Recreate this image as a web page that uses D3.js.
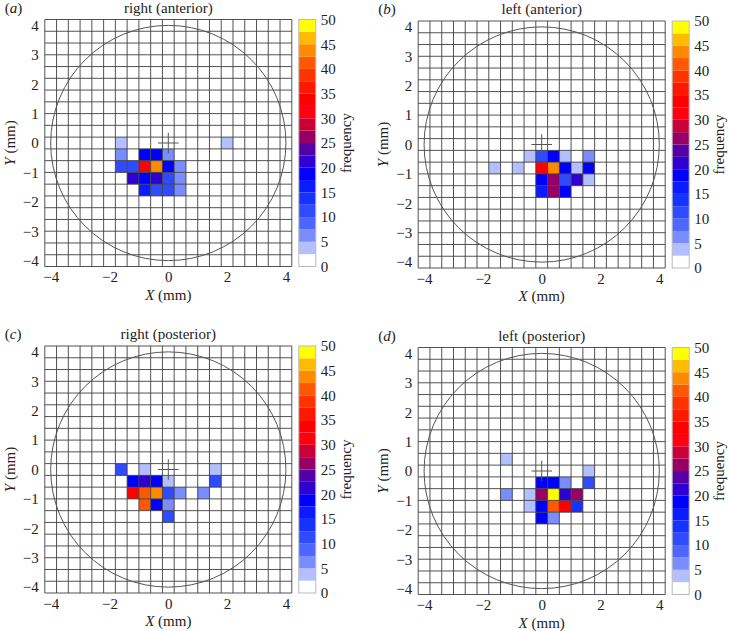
<!DOCTYPE html>
<html>
<head>
<meta charset="utf-8">
<script src="https://cdn.jsdelivr.net/npm/d3@7"></script>
<style>
  html, body { margin: 0; padding: 0; background: #fff; }
  svg text { font-family: 'Liberation Serif', 'Times New Roman', serif; fill: #222; }
</style>
</head>
<body>
<svg id="chart" width="729" height="631"></svg>
<script>
// ---- data ----
const panelLetters = ["a", "b", "c", "d"];
const panelTitles = ["right (anterior)", "left (anterior)", "right (posterior)", "left (posterior)"];
const xTicks = [-4, -2, 0, 2, 4];
const yTicks = [-4, -3, -2, -1, 0, 1, 2, 3, 4];
const colorTicks = [0, 5, 10, 15, 20, 25, 30, 35, 40, 45, 50];
const colorThresholds = [2.5, 5, 7.5, 10, 12.5, 15, 17.5, 20, 22.5, 25, 27.5, 30, 32.5, 35, 37.5, 40, 42.5, 45, 47.5];
const binColors = ["#ffffff", "#b3bfff", "#7a8dff", "#4d66ff", "#2e4bff", "#1632ff", "#0a1cff", "#0000ff",
  "#2e00d2", "#5400a6", "#960066", "#cc0038", "#ff0010", "#ff0000", "#ff1800", "#ff3300",
  "#ff5800", "#ff8a00", "#ffbb00", "#ffff00"];
const cellSize = 0.4;
const circleRadius = 4;

// cells: [x centre (mm), y centre (mm), frequency]
const rightAnterior = [
  [-1.6, 0, 4], [2.0, 0, 4],
  [-1.6, -0.4, 7], [-0.8, -0.4, 18], [-0.4, -0.4, 18], [0, -0.4, 7],
  [-1.6, -0.8, 10], [-1.2, -0.8, 10], [-0.8, -0.8, 33], [-0.4, -0.8, 44], [0, -0.8, 18], [0.4, -0.8, 7],
  [-1.2, -1.2, 22], [-0.8, -1.2, 18], [-0.4, -1.2, 21], [0, -1.2, 10], [0.4, -1.2, 7],
  [-0.8, -1.6, 17], [-0.4, -1.6, 12], [0, -1.6, 12], [0.4, -1.6, 7]
];
const leftAnterior = [
  [-0.4, -0.4, 4], [0, -0.4, 11], [0.4, -0.4, 18], [0.8, -0.4, 4], [1.6, -0.4, 7],
  [-1.6, -0.8, 4], [-0.8, -0.8, 4], [0, -0.8, 33], [0.4, -0.8, 44], [0.8, -0.8, 18], [1.2, -0.8, 4], [1.6, -0.8, 18],
  [0, -1.2, 18], [0.4, -1.2, 26], [0.8, -1.2, 12], [1.2, -1.2, 21], [1.6, -1.2, 4],
  [0, -1.6, 17], [0.4, -1.6, 26], [0.8, -1.6, 18]
];
const rightPosterior = [
  [-1.6, 0, 10], [-0.8, 0, 4], [1.6, 0, 4],
  [-1.2, -0.4, 18], [-0.8, -0.4, 21], [-0.4, -0.4, 18], [0, -0.4, 4], [1.6, -0.4, 12],
  [-1.2, -0.8, 33], [-0.8, -0.8, 41], [-0.4, -0.8, 44], [0, -0.8, 12], [0.4, -0.8, 7], [1.2, -0.8, 7],
  [-0.8, -1.2, 41], [-0.4, -1.2, 18], [0, -1.2, 7],
  [0, -1.6, 11]
];
const leftPosterior = [
  [-1.2, 0.4, 4],
  [1.6, 0, 4],
  [0, -0.4, 18], [0.4, -0.4, 18], [0.8, -0.4, 7], [1.6, -0.4, 12],
  [-1.2, -0.8, 7], [-0.4, -0.8, 4], [0, -0.8, 26], [0.4, -0.8, 49], [0.8, -0.8, 21], [1.2, -0.8, 26],
  [-0.4, -1.2, 4], [0, -1.2, 18], [0.4, -1.2, 41], [0.8, -1.2, 33], [1.2, -1.2, 14],
  [0, -1.6, 18], [0.4, -1.6, 7]
];
const panelData = [rightAnterior, leftAnterior, rightPosterior, leftPosterior];

// ---- layout ----
const panelPos = [
  { x: 44.8, y: 19.5 },
  { x: 418.2, y: 21 },
  { x: 44.8, y: 346 },
  { x: 418.2, y: 347.5 }
];
const size = 247;
const fontSize = 15;
const FONT = "'Liberation Serif', 'Times New Roman', serif";

const svg = d3.select("#chart");
const color = d3.scaleThreshold().domain(colorThresholds).range(binColors);
const extent = [-4.2, 4.2];
const gridEdges = d3.range(22).map(k => extent[0] + k * cellSize);
const binEdges = [0, ...colorThresholds, 50];

function styleText(sel) {
  sel.attr("font-family", FONT).style("font-family", FONT).style("font-size", fontSize + "px").attr("fill", "#222");
}

panelData.forEach((cells, p) => {
  const pos = panelPos[p];
  const g = svg.append("g").attr("transform", `translate(${pos.x},${pos.y})`);
  const x = d3.scaleLinear().domain(extent).range([0, size]);
  const y = d3.scaleLinear().domain(extent).range([size, 0]);
  const cw = x(cellSize) - x(0);

  // cells
  g.append("g").selectAll("rect").data(cells).join("rect")
    .attr("x", d => x(d[0] - cellSize / 2))
    .attr("y", d => y(d[1] + cellSize / 2))
    .attr("width", cw)
    .attr("height", cw)
    .attr("fill", d => color(d[2]));

  // grid
  const grid = g.append("g").attr("stroke", "#404040").attr("stroke-width", 0.9);
  grid.selectAll("line.v").data(gridEdges).join("line").attr("class", "v")
    .attr("x1", d => x(d)).attr("x2", d => x(d)).attr("y1", 0).attr("y2", size);
  grid.selectAll("line.h").data(gridEdges).join("line").attr("class", "h")
    .attr("y1", d => y(d)).attr("y2", d => y(d)).attr("x1", 0).attr("x2", size);

  // circle
  g.append("circle")
    .attr("cx", x(0)).attr("cy", y(0)).attr("r", x(circleRadius) - x(0))
    .attr("fill", "none").attr("stroke", "#555").attr("stroke-width", 1);

  // cross
  const cr = 0.35;
  g.append("line").attr("x1", x(-cr)).attr("x2", x(cr)).attr("y1", y(0)).attr("y2", y(0))
    .attr("stroke", "#555").attr("stroke-width", 1);
  g.append("line").attr("x1", x(0)).attr("x2", x(0)).attr("y1", y(cr)).attr("y2", y(-cr))
    .attr("stroke", "#555").attr("stroke-width", 1);

  // axes
  const ax = g.append("g").attr("transform", `translate(0,${size})`)
    .call(d3.axisBottom(x).tickValues(xTicks).tickSize(0).tickPadding(5));
  const ay = g.append("g")
    .call(d3.axisLeft(y).tickValues(yTicks).tickSize(0).tickPadding(6));
  [ax, ay].forEach(a => {
    a.attr("font-family", FONT).attr("font-size", fontSize);
    a.select(".domain").remove();
    styleText(a.selectAll("text"));
  });

  // axis titles
  const xt = g.append("text").attr("x", size / 2).attr("y", size + 33)
    .attr("text-anchor", "middle");
  styleText(xt);
  xt.append("tspan").style("font-style", "italic").text("X");
  xt.append("tspan").text(" (mm)");
  const yt = g.append("text").attr("transform", `translate(${-30},${size / 2}) rotate(-90)`)
    .attr("text-anchor", "middle");
  styleText(yt);
  yt.append("tspan").style("font-style", "italic").text("Y");
  yt.append("tspan").text(" (mm)");

  // panel title and letter
  const tt = g.append("text").attr("x", size / 2).attr("y", -7).attr("text-anchor", "middle")
    .text(panelTitles[p]);
  styleText(tt);
  const lt = g.append("text").attr("x", -40).attr("y", -7);
  styleText(lt);
  lt.append("tspan").text("(");
  lt.append("tspan").style("font-style", "italic").text(panelLetters[p]);
  lt.append("tspan").text(")");

  // colorbar
  const cb = g.append("g").attr("transform", `translate(${size + 7},0)`);
  const cbw = 17;
  const cy = d3.scaleLinear().domain([0, 50]).range([size, 0]);
  cb.selectAll("rect").data(d3.range(binColors.length)).join("rect")
    .attr("x", 0).attr("width", cbw)
    .attr("y", i => cy(binEdges[i + 1]))
    .attr("height", i => cy(binEdges[i]) - cy(binEdges[i + 1]))
    .attr("fill", i => binColors[i]);
  cb.append("rect").attr("x", 0).attr("y", 0).attr("width", cbw).attr("height", size)
    .attr("fill", "none").attr("stroke", "#bbb").attr("stroke-width", 1);
  const ca = cb.append("g").attr("transform", `translate(${cbw},0)`)
    .call(d3.axisRight(cy).tickValues(colorTicks).tickSize(0).tickPadding(5));
  ca.attr("font-family", FONT).attr("font-size", fontSize);
  ca.select(".domain").remove();
  styleText(ca.selectAll("text"));
  const ft = cb.append("text").attr("transform", `translate(${cbw + 35},${size / 2}) rotate(-90)`)
    .attr("text-anchor", "middle").text("frequency");
  styleText(ft);
});
</script>
</body>
</html>
